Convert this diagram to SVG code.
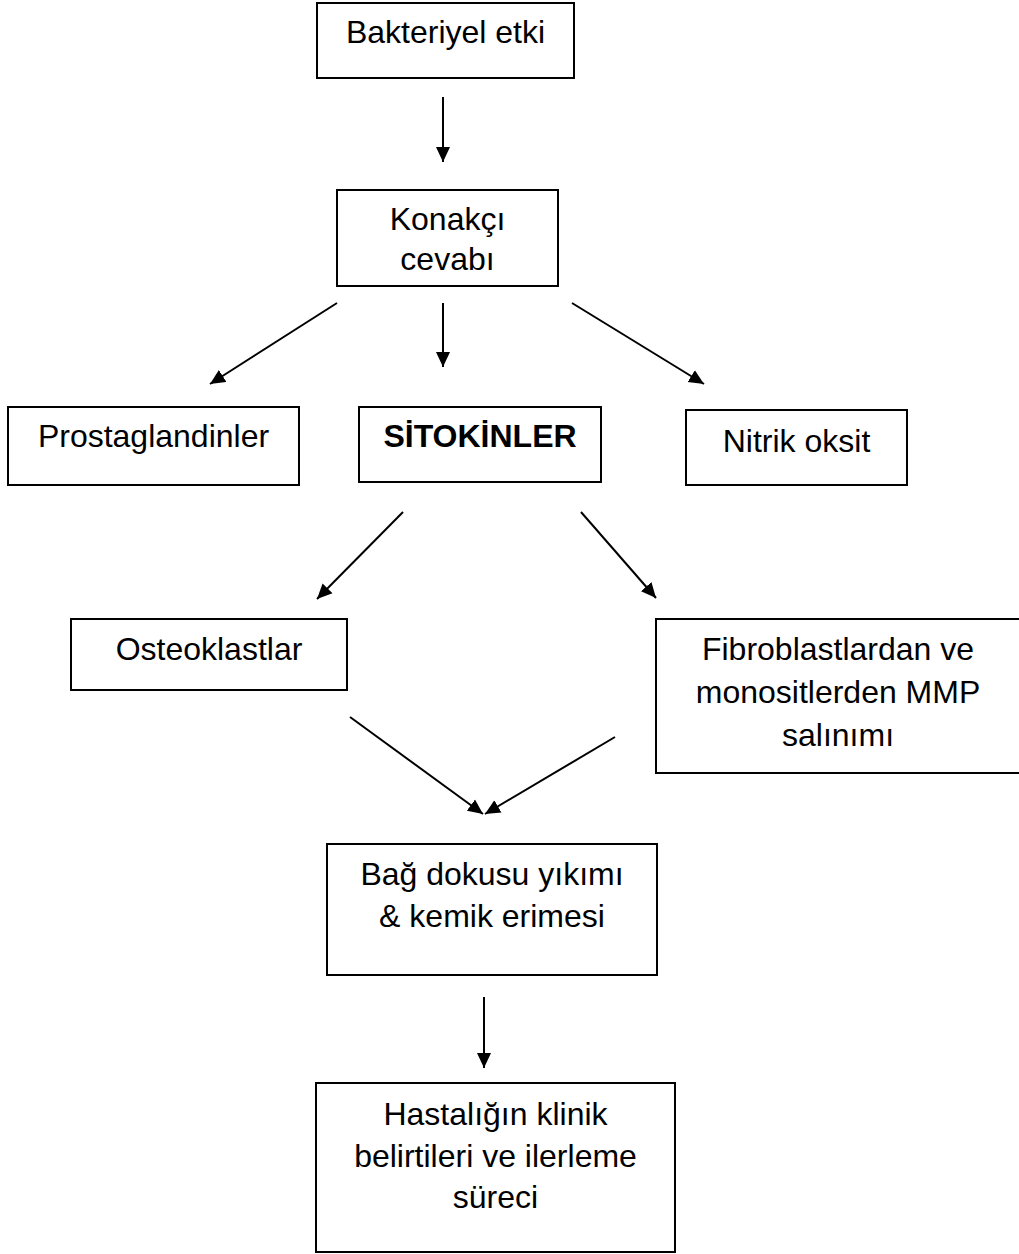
<svg xmlns="http://www.w3.org/2000/svg" width="1019" height="1254" viewBox="0 0 1019 1254">
<style>
.box{fill:#fff;stroke:#000;stroke-width:2}
.t{font-family:"Liberation Sans",Arial,sans-serif;font-size:32px;fill:#000;text-anchor:middle}
.b{font-weight:bold}
.c{stroke:#000;stroke-width:2;fill:none;marker-end:url(#ah)}
</style>
<defs>
<marker id="ah" markerUnits="userSpaceOnUse" markerWidth="16" markerHeight="15" refX="15" refY="7" orient="auto" viewBox="0 0 16 14">
<path d="M0,0 L15,7 L0,14 z" fill="#000"/>
</marker>
</defs>
<rect width="1019" height="1254" fill="#fff"/>
<g id="connectors">
<line class="c" x1="443" y1="97" x2="443" y2="162"/>
<line class="c" x1="337" y1="303" x2="210" y2="384"/>
<line class="c" x1="443" y1="303" x2="443" y2="367"/>
<line class="c" x1="572" y1="303" x2="704" y2="384"/>
<line class="c" x1="403" y1="512" x2="317" y2="599"/>
<line class="c" x1="581" y1="512" x2="656" y2="598"/>
<line class="c" x1="350" y1="717" x2="483" y2="814"/>
<line class="c" x1="615" y1="737" x2="485" y2="814"/>
<line class="c" x1="484" y1="997" x2="484" y2="1068"/>
</g>
<g id="bakteriyel">
<rect class="box" x="317" y="3" width="257" height="75"/>
<text class="t" x="445.5" y="43">Bakteriyel etki</text>
</g>
<g id="konakci">
<rect class="box" x="337" y="190" width="221" height="96"/>
<text class="t" x="447.5" y="230">Konakçı</text>
<text class="t" x="447.5" y="270">cevabı</text>
</g>
<g id="prostaglandinler">
<rect class="box" x="8" y="407" width="291" height="78"/>
<text class="t" x="153.5" y="447">Prostaglandinler</text>
</g>
<g id="sitokinler">
<rect class="box" x="359" y="407" width="242" height="75"/>
<text class="t b" x="480" y="447">SİTOKİNLER</text>
</g>
<g id="nitrik">
<rect class="box" x="686" y="410" width="221" height="75"/>
<text class="t" x="796.5" y="452">Nitrik oksit</text>
</g>
<g id="osteoklastlar">
<rect class="box" x="71" y="619" width="276" height="71"/>
<text class="t" x="209" y="660">Osteoklastlar</text>
</g>
<g id="fibroblast">
<rect class="box" x="656" y="619" width="366" height="154"/>
<text class="t" x="838" y="660">Fibroblastlardan ve</text>
<text class="t" x="838" y="703">monositlerden MMP</text>
<text class="t" x="838" y="746">salınımı</text>
</g>
<g id="bag">
<rect class="box" x="327" y="844" width="330" height="131"/>
<text class="t" x="492" y="885">Bağ dokusu yıkımı</text>
<text class="t" x="492" y="927">&amp; kemik erimesi</text>
</g>
<g id="hastalik">
<rect class="box" x="316" y="1083" width="359" height="169"/>
<text class="t" x="495.5" y="1125">Hastalığın klinik</text>
<text class="t" x="495.5" y="1167">belirtileri ve ilerleme</text>
<text class="t" x="495.5" y="1208">süreci</text>
</g>
</svg>
